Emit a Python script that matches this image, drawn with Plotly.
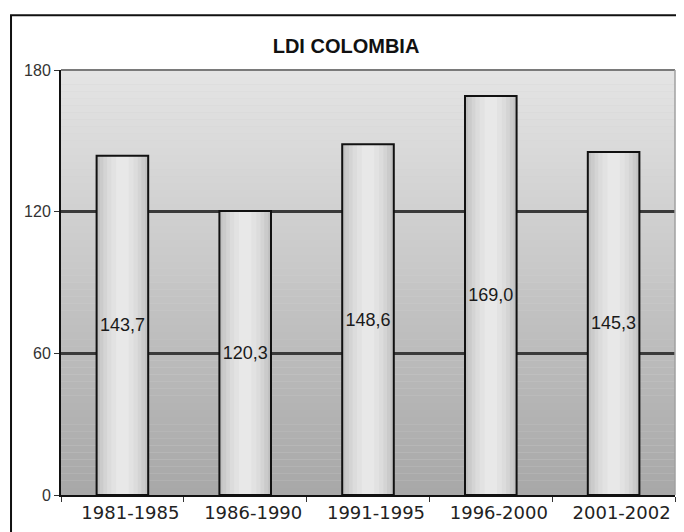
import plotly.graph_objects as go

categories = ["1981-1985", "1986-1990", "1991-1995", "1996-2000", "2001-2002"]
values = [143.7, 120.3, 148.6, 169.0, 145.3]
y_ticks = [0, 60, 120, 180]
title_text = "LDI COLOMBIA"

fig = go.Figure()

# bar "cylinder" shading via overlaid bars of decreasing width
layers = [
    (0.42, "#c2c2c2"),
    (0.37, "#cbcbcb"),
    (0.31, "#d4d4d4"),
    (0.25, "#dcdcdc"),
    (0.18, "#e2e2e2"),
    (0.10, "#e8e8e8"),
]
for w, c in layers:
    fig.add_trace(go.Bar(
        x=categories, y=values, width=w,
        marker=dict(color=c, line=dict(width=0)),
        hoverinfo="skip", showlegend=False,
    ))

# outline + labels
fig.add_trace(go.Bar(
    x=categories, y=values, width=0.42,
    marker=dict(color="rgba(0,0,0,0)", line=dict(color="#111111", width=2)),
    texttemplate="%{y:.1f}", textposition="inside", insidetextanchor="middle",
    textangle=0, textfont=dict(family="Liberation Sans, Arial", size=18, color="#1a1a1a"),
    showlegend=False,
))

# plot-area vertical gradient background
shapes = []
n = 60
top = 228
bot = 168
for k in range(n):
    t = k / (n - 1)
    r = int(round(bot + (top - bot) * t))
    shapes.append(dict(
        type="rect", xref="paper", yref="paper",
        x0=0, x1=1, y0=k / n, y1=(k + 1) / n,
        fillcolor=f"rgb({r},{r},{r})", line=dict(width=0), layer="below",
    ))
# top & right plot border in grey
shapes.append(dict(type="line", xref="paper", yref="paper", x0=0, x1=1, y0=1, y1=1,
                   line=dict(color="#7a7a7a", width=2), layer="above"))
shapes.append(dict(type="line", xref="paper", yref="paper", x0=1, x1=1, y0=0, y1=1,
                   line=dict(color="#a0a0a0", width=1.5), layer="above"))
# outer frame
shapes.append(dict(type="rect", xref="paper", yref="paper",
                   x0=-0.0814, x1=1.2, y0=-0.3, y1=1.129,
                   line=dict(color="#111111", width=2), fillcolor="rgba(0,0,0,0)", layer="above"))

fig.update_layout(
    width=676, height=524,
    margin=dict(l=53, r=9, t=62, b=37),
    paper_bgcolor="white",
    plot_bgcolor="#d0d0d0",
    barmode="overlay",
    separators=",.",
    shapes=shapes,
    title=dict(text="<b>" + title_text + "</b>", x=0.5, xanchor="center",
               y=1 - 38 / 524, yanchor="middle",
               font=dict(family="Liberation Sans, Arial", size=20, color="#111111")),
    xaxis=dict(
        type="category", showgrid=False, showline=True, linecolor="#111111", linewidth=2,
        ticks="outside", tickson="boundaries", ticklen=5, tickcolor="#333333",
        ticklabelshift=8,
        tickfont=dict(family="DejaVu Sans", size=18, color="#222222"),
    ),
    yaxis=dict(
        range=[0, 180], tickvals=y_ticks, showgrid=True, gridcolor="#3a3a3a", gridwidth=2.5,
        showline=True, linecolor="#111111", linewidth=2, zeroline=False,
        ticks="outside", ticklen=5, tickcolor="#333333",
        tickfont=dict(family="Liberation Sans, Arial", size=16, color="#333333"),
    ),
)

fig.write_html("out.html")
